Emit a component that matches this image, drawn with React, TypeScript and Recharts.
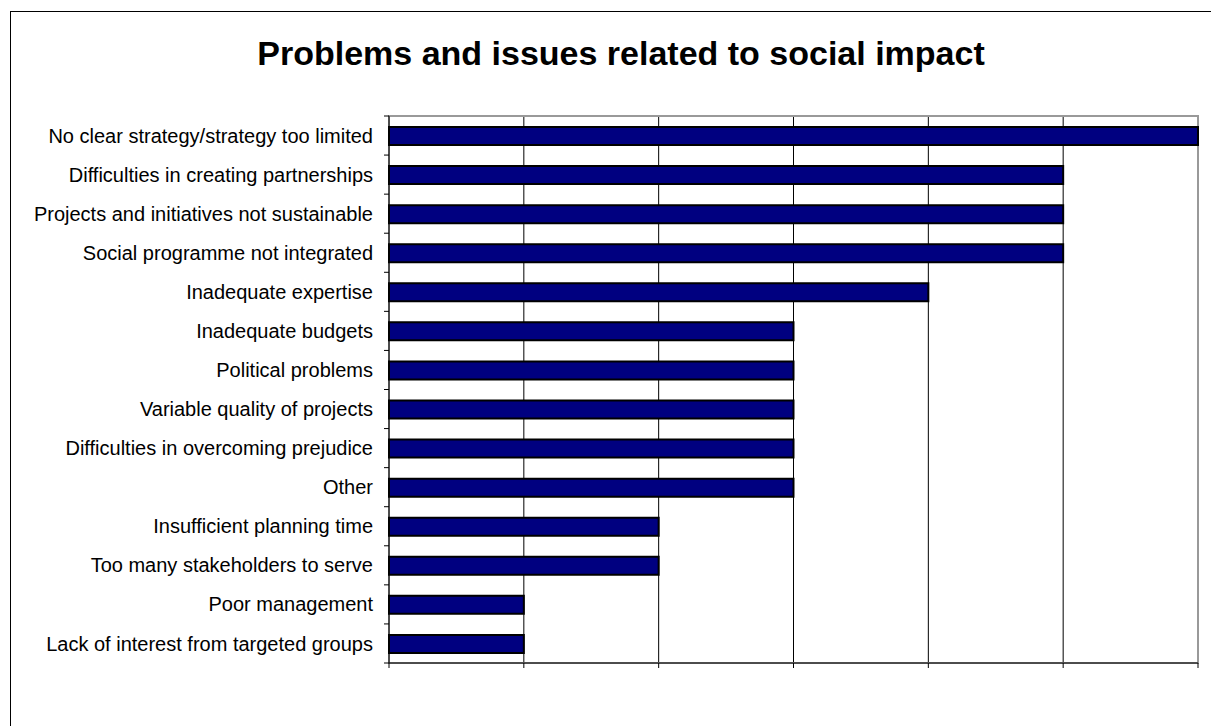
import { Bar, BarChart, CartesianGrid, ReferenceArea, XAxis, YAxis } from "recharts";

const problems = [
  "No clear strategy/strategy too limited",
  "Difficulties in creating partnerships",
  "Projects and initiatives not sustainable",
  "Social programme not integrated",
  "Inadequate expertise",
  "Inadequate budgets",
  "Political problems",
  "Variable quality of projects",
  "Difficulties in overcoming prejudice",
  "Other",
  "Insufficient planning time",
  "Too many stakeholders to serve",
  "Poor management",
  "Lack of interest from targeted groups",
];

const counts = [6, 5, 5, 5, 4, 3, 3, 3, 3, 3, 2, 2, 1, 1];

const xTicks = [0, 1, 2, 3, 4, 5, 6];

const data = problems.map((name, i) => ({ name, value: counts[i] }));

const FONT = '"Liberation Sans", Arial, sans-serif';

// labels sit at band centres, tick marks sit on the band boundaries
function CategoryTick(props: any) {
  const { x, y, payload, index } = props;
  const half = payload?.offset ?? 19.5;
  const axisX = x + 16;
  return (
    <g>
      <line x1={axisX - 5} x2={axisX} y1={y - half} y2={y - half} stroke="#000" />
      {index === problems.length - 1 && (
        <line x1={axisX - 5} x2={axisX} y1={y + half} y2={y + half} stroke="#000" />
      )}
      <text x={x} y={y} dy="0.355em" textAnchor="end" fill="#000" fontSize={20} fontFamily={FONT}>
        {payload.value}
      </text>
    </g>
  );
}

export default function App() {
  return (
    <div style={{ position: "absolute", left: 0, top: 0, width: 1211, height: 726, overflow: "hidden", background: "#fff" }}>
      <div
        style={{
          position: "absolute",
          left: 10,
          top: 11,
          width: 1400,
          height: 900,
          borderLeft: "1px solid #000",
          borderTop: "1px solid #000",
        }}
      />
      <div
        style={{
          position: "absolute",
          left: 0,
          width: 1242,
          top: 34,
          textAlign: "center",
          fontFamily: FONT,
          fontWeight: "bold",
          fontSize: 34,
          color: "#000",
        }}
      >
        Problems and issues related to social impact
      </div>
      <div style={{ position: "absolute", left: 0, top: 0 }}>
        <BarChart
          width={1211}
          height={726}
          data={data}
          layout="vertical"
          margin={{ top: 116, right: 13, bottom: 33, left: 0 }}
          barSize={18}
        >
          <CartesianGrid vertical horizontal={false} stroke="#000" strokeWidth={1} />
          <ReferenceArea x1={0} x2={6} fill="none" stroke="#999" strokeWidth={2} ifOverflow="visible" />
          <XAxis
            type="number"
            domain={[0, 6]}
            ticks={xTicks}
            interval={0}
            axisLine={{ stroke: "#000" }}
            tickLine={{ stroke: "#000" }}
            tickSize={5}
            tick={() => <g />}
            height={30}
          />
          <YAxis
            type="category"
            dataKey="name"
            width={389}
            interval={0}
            axisLine={{ stroke: "#000" }}
            tickLine={false}
            tickSize={5}
            tickMargin={11}
            tick={<CategoryTick />}
          />
          <Bar dataKey="value" fill="#000080" stroke="#000" strokeWidth={2} isAnimationActive={false} />
        </BarChart>
      </div>
    </div>
  );
}
